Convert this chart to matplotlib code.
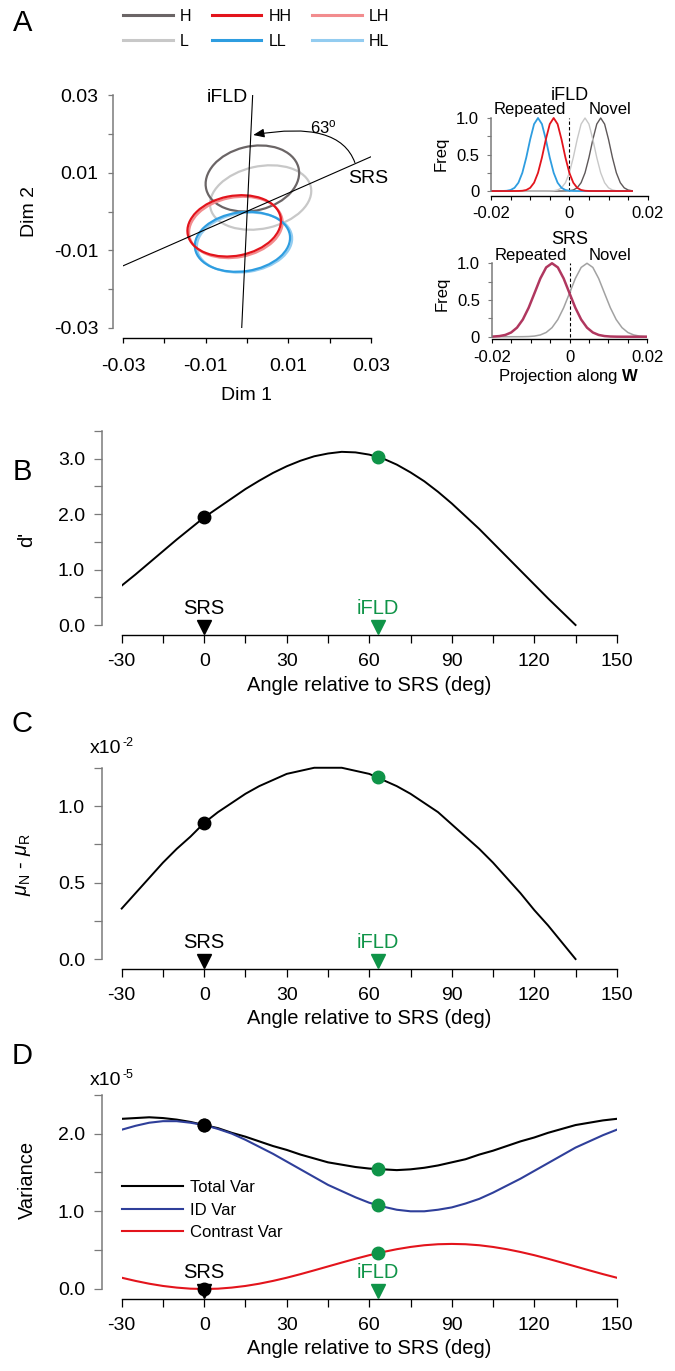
import matplotlib
matplotlib.use("Agg")
import matplotlib.pyplot as plt
from matplotlib.patches import Ellipse, FancyArrowPatch
from matplotlib.lines import Line2D

plt.rcParams['font.family'] = ['Liberation Sans', 'DejaVu Sans']
plt.rcParams['mathtext.fontset'] = 'custom'
plt.rcParams['mathtext.rm'] = 'Liberation Sans'
plt.rcParams['mathtext.it'] = 'Liberation Sans:italic'
plt.rcParams['mathtext.bf'] = 'Liberation Sans:bold'

# ---------------- data ----------------
# A: condition ellipses (centre, size, tilt) in the Dim1/Dim2 plane
cond_names = ["H", "L", "HH", "LL", "LH", "HL"]
cond_colors = ["#6b6566", "#c8c8c8", "#e3141c", "#2e9de0", "#f28c8e", "#93ccf0"]
ell_cx = [0.0013, 0.0033, -0.0031, -0.0011, -0.0027, -0.0006]
ell_cy = [0.0085, 0.0036, -0.0037, -0.0078, -0.0041, -0.0080]
ell_w = [0.0230, 0.0249, 0.0229, 0.0232, 0.0229, 0.0232]
ell_h = [0.0165, 0.0160, 0.0154, 0.0152, 0.0154, 0.0152]
ell_angle = [15, 13.5, 12, 9, 12, 9]
ell_order = ["L", "H", "HL", "LH", "LL", "HH"]

ifld_x = [0.00137, -0.00128]
ifld_y = [0.030, -0.030]
srs_x = [-0.030, 0.030]
srs_y = [-0.0140, 0.0141]
angle_label = "63"

# A right: projections (normalised frequency)
proj_x_top = [-0.020, -0.019, -0.018, -0.017, -0.016, -0.015, -0.014, -0.013, -0.012,
              -0.011, -0.010, -0.009, -0.008, -0.007, -0.006, -0.005, -0.004, -0.003,
              -0.002, -0.001, 0.000, 0.001, 0.002, 0.003, 0.004, 0.005, 0.006, 0.007,
              0.008, 0.009, 0.010, 0.011, 0.012, 0.013, 0.014, 0.015, 0.016]
freq_ll = [0, 0, 0.0002, 0.0009, 0.0039, 0.0142, 0.0439, 0.1142, 0.2494, 0.4579, 0.7067,
           0.9169, 1.0, 0.9169, 0.7067, 0.4579, 0.2494, 0.1142, 0.0439, 0.0142, 0.0039,
           0.0009, 0.0002, 0, 0, 0, 0, 0, 0, 0, 0, 0, 0, 0, 0, 0, 0]
freq_hh = [0, 0, 0, 0, 0, 0, 0.0002, 0.0009, 0.0039, 0.0142, 0.0439, 0.1142, 0.2494,
           0.4579, 0.7067, 0.9169, 1.0, 0.9169, 0.7067, 0.4579, 0.2494, 0.1142, 0.0439,
           0.0142, 0.0039, 0.0009, 0.0002, 0, 0, 0, 0, 0, 0, 0, 0, 0, 0]
freq_l = [0, 0, 0, 0, 0, 0, 0, 0, 0, 0, 0, 0, 0, 0, 0.0002, 0.0009, 0.0039, 0.0142,
          0.0439, 0.1142, 0.2494, 0.4579, 0.7067, 0.9169, 1.0, 0.9169, 0.7067, 0.4579,
          0.2494, 0.1142, 0.0439, 0.0142, 0.0039, 0.0009, 0.0002, 0, 0]
freq_h = [0, 0, 0, 0, 0, 0, 0, 0, 0, 0, 0, 0, 0, 0, 0, 0, 0, 0, 0.0002, 0.0009, 0.0039,
          0.0142, 0.0439, 0.1142, 0.2494, 0.4579, 0.7067, 0.9169, 1.0, 0.9169, 0.7067,
          0.4579, 0.2494, 0.1142, 0.0439, 0.0142, 0.0039]

proj_x_bot = [-0.020, -0.0195, -0.018, -0.0165, -0.015, -0.0135, -0.012, -0.0105, -0.009,
              -0.0075, -0.006, -0.0045, -0.003, -0.0015, 0.0, 0.0015, 0.003, 0.0045,
              0.006, 0.0075, 0.009, 0.0105, 0.012, 0.0135, 0.015, 0.0165, 0.018, 0.0195,
              0.020]
freq_rep = [0.0020, 0.0030, 0.0090, 0.0243, 0.0580, 0.1235, 0.2339, 0.3946, 0.5927,
            0.7926, 0.9436, 1.0, 0.9436, 0.7926, 0.5927, 0.3946, 0.2339, 0.1235, 0.0580,
            0.0243, 0.0090, 0.0030, 0.0009, 0.0002, 0.0001, 0, 0, 0, 0]
freq_nov = [0, 0, 0, 0, 0.0001, 0.0002, 0.0009, 0.0030, 0.0090, 0.0243, 0.0580, 0.1235,
            0.2339, 0.3946, 0.5927, 0.7926, 0.9436, 1.0, 0.9436, 0.7926, 0.5927, 0.3946,
            0.2339, 0.1235, 0.0580, 0.0243, 0.0090, 0.0030, 0.0020]

# B-D: quantities vs. projection angle
angle_dp = [-30, -25, -20, -15, -10, -5, 0, 5, 10, 15, 20, 25, 30, 35, 40, 45, 50, 55,
            60, 65, 70, 75, 80, 85, 90, 95, 100, 105, 110, 115, 120, 125, 130, 135]
dprime = [0.71, 0.91, 1.12, 1.33, 1.54, 1.74, 1.94, 2.11, 2.28, 2.45, 2.60, 2.74, 2.86,
          2.96, 3.04, 3.09, 3.12, 3.11, 3.07, 3.00, 2.89, 2.75, 2.59, 2.40, 2.19, 1.96,
          1.73, 1.48, 1.23, 0.98, 0.73, 0.48, 0.24, 0.00]
mu_diff = [0.33, 0.43, 0.53, 0.63, 0.72, 0.80, 0.89, 0.96, 1.02, 1.08, 1.13, 1.17, 1.21,
           1.23, 1.25, 1.25, 1.25, 1.23, 1.21, 1.17, 1.13, 1.08, 1.02, 0.96, 0.88, 0.80,
           0.72, 0.63, 0.53, 0.43, 0.32, 0.22, 0.11, 0.00]

angle_var = [-30, -25, -20, -15, -10, -5, 0, 5, 10, 15, 20, 25, 30, 35, 40, 45, 50, 55,
             60, 65, 70, 75, 80, 85, 90, 95, 100, 105, 110, 115, 120, 125, 130, 135,
             140, 145, 150]
var_total = [2.19, 2.20, 2.21, 2.20, 2.18, 2.15, 2.11, 2.07, 2.01, 1.96, 1.90, 1.84, 1.79,
             1.73, 1.68, 1.63, 1.60, 1.57, 1.55, 1.54, 1.53, 1.54, 1.56, 1.59, 1.63, 1.67,
             1.73, 1.78, 1.84, 1.90, 1.95, 2.01, 2.06, 2.11, 2.14, 2.17, 2.19]
var_id = [2.05, 2.10, 2.14, 2.16, 2.16, 2.14, 2.11, 2.06, 2.00, 1.92, 1.83, 1.74, 1.64,
          1.54, 1.44, 1.34, 1.26, 1.18, 1.11, 1.06, 1.02, 1.00, 1.00, 1.02, 1.05, 1.10,
          1.16, 1.24, 1.33, 1.42, 1.52, 1.62, 1.72, 1.82, 1.90, 1.98, 2.05]
var_contrast = [0.145, 0.104, 0.068, 0.039, 0.018, 0.004, 0.0, 0.004, 0.018, 0.039, 0.068,
                0.104, 0.145, 0.191, 0.240, 0.290, 0.340, 0.389, 0.435, 0.476, 0.512,
                0.541, 0.563, 0.576, 0.580, 0.576, 0.563, 0.541, 0.512, 0.476, 0.435,
                0.389, 0.340, 0.290, 0.240, 0.191, 0.145]

srs_angle = 0
ifld_angle = 63
dprime_at = [1.94, 3.03]
mu_at = [0.89, 1.19]
total_at = [2.11, 1.54]
id_at = [2.11, 1.08]
contrast_at = [0.0, 0.46]

angle_ticks = [-30, -15, 0, 15, 30, 45, 60, 75, 90, 105, 120, 135, 150]
angle_ticklabels = ["-30", "", "0", "", "30", "", "60", "", "90", "", "120", "", "150"]

# ---------------- figure ----------------
FIG_W, FIG_H = 675, 1371
GREEN = "#0f9448"
AXGREY = "#7a7a7a"

fig = plt.figure(figsize=(FIG_W / 100, FIG_H / 100), dpi=100)


def px_axes(left, top, right, bottom):
    return fig.add_axes([left / FIG_W, 1 - bottom / FIG_H,
                         (right - left) / FIG_W, (bottom - top) / FIG_H])


def clean(ax, left_offset=0):
    for s in ["top", "right"]:
        ax.spines[s].set_visible(False)
    ax.spines["left"].set_color(AXGREY)
    ax.spines["left"].set_linewidth(1.1)
    ax.spines["bottom"].set_linewidth(1.0)
    if left_offset:
        ax.spines["left"].set_position(("outward", left_offset))


def sci_label(ax, x, y, exponent):
    t = ax.text(x, y, "x10", transform=ax.transAxes, ha="left", va="center",
                fontsize=14)
    ax.annotate(exponent, xy=(1, 1), xycoords=t, xytext=(0.5, 2),
                textcoords="offset points", ha="left", va="top", fontsize=9)


# ---- A: ellipses
ax = px_axes(123, 95, 371, 328)
clean(ax, 7.2)
ax.spines["bottom"].set_position(("outward", 7.2))
ax.set_xlim(-0.03, 0.03)
ax.set_ylim(-0.03, 0.03)
for name in ell_order:
    i = cond_names.index(name)
    ax.add_patch(Ellipse((ell_cx[i], ell_cy[i]), ell_w[i], ell_h[i], angle=ell_angle[i],
                         fill=False, ec=cond_colors[i], lw=1.6))
ax.plot(ifld_x, ifld_y, color="k", lw=0.8)
ax.plot(srs_x, srs_y, color="k", lw=0.8)
ax.text(0.0003, 0.0294, "iFLD", ha="right", va="center", fontsize=14)
ax.text(0.0244, 0.0084, "SRS", ha="left", va="center", fontsize=14)
ax.add_patch(FancyArrowPatch((0.0261, 0.0126), (0.0015, 0.0197),
                             connectionstyle="angle3,angleA=110,angleB=10",
                             arrowstyle="-|>,head_length=0.55,head_width=0.22",
                             mutation_scale=12, lw=0.8, color="k",
                             shrinkA=0, shrinkB=0))
ax.text(0.0185, 0.0218, angle_label + r"$^{\mathrm{o}}$", ha="center", va="center",
        fontsize=12)
ax.set_xticks([-0.03, -0.02, -0.01, 0, 0.01, 0.02, 0.03],
              ["-0.03", "", "-0.01", "", "0.01", "", "0.03"])
ax.set_yticks([-0.03, -0.02, -0.01, 0, 0.01, 0.02, 0.03],
              ["-0.03", "", "-0.01", "", "0.01", "", "0.03"])
ax.tick_params(direction="out", length=3.6, width=0.9, labelsize=14)
ax.tick_params(axis="y", colors=AXGREY, labelcolor="k", pad=7)
ax.tick_params(axis="x", pad=11)
ax.set_xlabel("Dim 1", fontsize=14)
ax.set_ylabel("Dim 2", fontsize=14)
ax.xaxis.set_label_coords(0.496, -0.253)
ax.yaxis.set_label_coords(-0.343, 0.5)

handles = [Line2D([], [], color=c, lw=2.2) for c in cond_colors]
fig.legend(handles, cond_names, ncol=3, loc="upper left",
           bbox_to_anchor=(123 / FIG_W, 1 - 9 / FIG_H), frameon=False, fontsize=11.5,
           handlelength=3.1, handletextpad=0.45, columnspacing=1.3, labelspacing=0.6,
           borderpad=0, borderaxespad=0)


# ---- A right: projections
def proj_axes(top, bottom, left, right, ymin):
    a = px_axes(left, top, right, bottom)
    clean(a)
    a.set_xlim(-0.02, 0.02)
    a.set_ylim(ymin, 1.05)
    a.spines["left"].set_bounds(0, 1)
    a.set_xticks([-0.02, -0.015, -0.01, -0.005, 0, 0.005, 0.01, 0.015, 0.02],
                 ["-0.02", "", "", "", "0", "", "", "", "0.02"])
    a.set_yticks([0, 0.25, 0.5, 0.75, 1.0], ["0", "", "0.5", "", "1.0"])
    a.tick_params(direction="out", length=3, width=0.8, labelsize=12)
    a.tick_params(axis="y", colors=AXGREY, labelcolor="k", pad=5.5)
    a.tick_params(axis="x", pad=4.5)
    a.set_ylabel("Freq", fontsize=12)
    a.vlines(0, 0, 1.0, colors="k", linestyles=(0, (3, 2)), lw=0.8)
    a.text(-0.010, 1.11, "Repeated", ha="center", va="center", fontsize=12)
    a.text(0.0105, 1.11, "Novel", ha="center", va="center", fontsize=12)
    return a


ax = proj_axes(114.35, 196, 491, 647.7, -0.068)
ax.plot(proj_x_top, freq_h, color="#5e5859", lw=1.0)
ax.plot(proj_x_top, freq_l, color=cond_colors[1], lw=1.0)
ax.plot(proj_x_top, freq_ll, color=cond_colors[3], lw=1.3)
ax.plot(proj_x_top, freq_hh, color=cond_colors[2], lw=1.3)
ax.set_title("iFLD", fontsize=13, pad=10.5)
ax.yaxis.set_label_coords(-0.268, 0.52)

ax = proj_axes(259.6, 339.3, 491.7, 647.3, -0.035)
ax.plot(proj_x_bot, freq_nov, color="#a2a2a2", lw=1.1)
ax.plot(proj_x_bot, freq_rep, color="#b0375f", lw=1.8)
ax.set_title("SRS", fontsize=13, pad=11)
ax.set_xlabel(r"Projection along $\mathbf{W}$", fontsize=12)
ax.yaxis.set_label_coords(-0.268, 0.577)
ax.xaxis.set_label_coords(0.497, -0.35)


# ---- B-D: angle panels
def angle_axes(top, bottom, ymin, ymax, ybound, yticks, ylabels):
    a = px_axes(121.7, top, 616.8, bottom)
    clean(a, 14.4)
    a.set_xlim(-30, 150)
    a.set_ylim(ymin, ymax)
    a.spines["left"].set_bounds(0, ybound)
    a.set_xticks(angle_ticks, angle_ticklabels)
    a.set_yticks(yticks, ylabels)
    a.tick_params(direction="out", length=6, width=0.9, labelsize=14)
    a.tick_params(axis="y", colors=AXGREY, labelcolor="k", pad=6)
    a.tick_params(axis="x", pad=7)
    a.set_xlabel("Angle relative to SRS (deg)", fontsize=14.5, labelpad=4)
    return a


def mark_axes(a, y_txt, y_tri):
    a.text(srs_angle, y_txt, "SRS", ha="center", va="center", fontsize=14.5)
    a.text(ifld_angle, y_txt, "iFLD", ha="center", va="center", fontsize=14.5,
           color=GREEN)
    a.plot([srs_angle], [y_tri], "v", color="k", ms=10, clip_on=False, zorder=4)
    a.plot([ifld_angle], [y_tri], "v", color=GREEN, ms=10, clip_on=False, zorder=4)


# B
ax = angle_axes(430.75, 635, -0.18, 3.5, 3.5, [0, 0.5, 1, 1.5, 2, 2.5, 3, 3.5],
                ["0.0", "", "1.0", "", "2.0", "", "3.0", ""])
ax.plot(angle_dp, dprime, color="k", lw=1.4)
ax.plot([srs_angle], [dprime_at[0]], "o", color="k", ms=9)
ax.plot([ifld_angle], [dprime_at[1]], "o", color=GREEN, ms=9)
mark_axes(ax, 0.30, -0.03)
ax.set_ylabel("d'", fontsize=14.5)
ax.yaxis.set_label_coords(-0.173, 0.47)

# C
ax = angle_axes(764.7, 968.7, -0.063, 1.27, 1.25, [0, 0.25, 0.5, 0.75, 1.0, 1.25],
                ["0.0", "", "0.5", "", "1.0", ""])
ax.plot(angle_dp, mu_diff, color="k", lw=1.4, clip_on=False)
ax.plot([srs_angle], [mu_at[0]], "o", color="k", ms=9)
ax.plot([ifld_angle], [mu_at[1]], "o", color=GREEN, ms=9)
mark_axes(ax, 0.109, -0.015)
ax.set_ylabel(r"$\mu_{\mathrm{N}}$ - $\mu_{\mathrm{R}}$", fontsize=14.5)
ax.yaxis.set_label_coords(-0.179, 0.51)
sci_label(ax, -0.064, 1.08, "-2")

# D
ax = angle_axes(1094.75, 1298.7, -0.125, 2.5, 2.5, [0, 0.5, 1.0, 1.5, 2.0, 2.5],
                ["0.0", "", "1.0", "", "2.0", ""])
l1, = ax.plot(angle_var, var_total, color="k", lw=1.5)
l2, = ax.plot(angle_var, var_id, color="#2f3f9a", lw=1.5)
l3, = ax.plot(angle_var, var_contrast, color="#e3141c", lw=1.5)
ax.plot([srs_angle] * 3, [total_at[0], id_at[0], contrast_at[0]], "o", color="k", ms=9,
        zorder=5)
ax.plot([ifld_angle] * 3, [total_at[1], id_at[1], contrast_at[1]], "o", color=GREEN,
        ms=9, zorder=5)
mark_axes(ax, 0.21, -0.02)
ax.set_ylabel("Variance", fontsize=14.5)
ax.yaxis.set_label_coords(-0.171, 0.58)
sci_label(ax, -0.064, 1.07, "-5")
ax.legend([l1, l2, l3], ["Total Var", "ID Var", "Contrast Var"], loc="upper left",
          bbox_to_anchor=(0, 0.582), frameon=False, fontsize=12, handlelength=3.7,
          handletextpad=0.4, labelspacing=0.45, borderpad=0, borderaxespad=0)

# panel letters
for letter, (px, py) in zip("ABCD", [(23, 23), (22, 472), (22, 724), (22, 1056)]):
    fig.text(px / FIG_W, 1 - py / FIG_H, letter, fontsize=21, ha="center", va="center")

fig.savefig("out.png", dpi=100)
